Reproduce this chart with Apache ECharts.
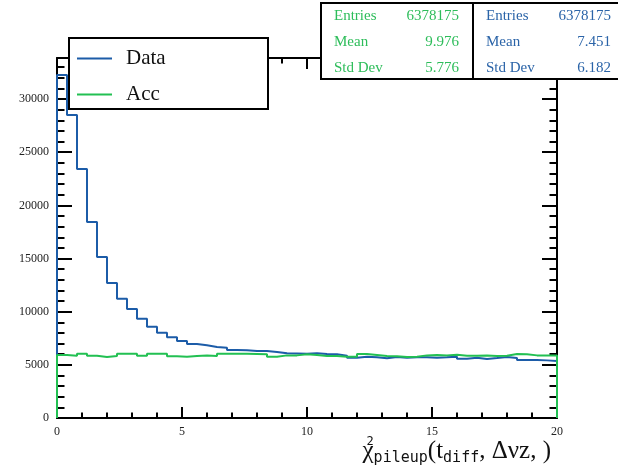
<!DOCTYPE html>
<html>
<head>
<meta charset="utf-8">
<script src="https://cdn.jsdelivr.net/npm/echarts@6/dist/echarts.min.js"></script>
<style>html,body{margin:0;padding:0;background:#fff;}#c{width:618px;height:471px;}</style>
</head>
<body>
<div id="c"></div>
<script>
// Histogram definition (50 bins from 0 to 20)
const xMin = 0;
const xMax = 20;
const binWidth = 0.4;
const yMax = 33860;

// Bin contents
const dataCounts = [32250, 28500, 23420, 18430, 15140, 12700, 11220, 10250, 9340, 8590,
  8020, 7600, 7240, 6960, 6840, 6680, 6610, 6400, 6370, 6300,
  6300, 6210, 6080, 6070, 6040, 6080, 6020, 5990, 5860, 5670,
  5770, 5710, 5610, 5740, 5670, 5710, 5710, 5670, 5710, 5770,
  5580, 5670, 5550, 5640, 5740, 5640, 5450, 5450, 5420, 5360];
const accCounts = [5925, 5860, 6050, 5860, 5740, 5830, 6050, 6050, 5860, 6050,
  6050, 5800, 5770, 5830, 5890, 5830, 6050, 6050, 6050, 6020,
  5990, 5770, 5890, 5890, 6000, 5925, 5830, 5830, 5770, 5770,
  6020, 5925, 5830, 5800, 5740, 5770, 5890, 5925, 5890, 5960,
  5860, 5860, 5890, 5830, 5860, 6020, 5990, 5890, 5890, 5890];

// Stat boxes
const statLabels = ['Entries', 'Mean', 'Std Dev'];
const accStats = ['6378175', '9.976', '5.776'];
const dataStats = ['6378175', '7.451', '6.182'];

const seriesNames = ['Data', 'Acc'];
const colors = ['#1c5ca8', '#22c052'];
const statColors = ['#2b64a8', '#2dbd5a'];
const xTitle = '{a|χ}{sup|2}{sub|pileup}{a|(t}{sub|diff}{a|, Δνz, )}';

function histPoints(counts) {
  const pts = [[xMin, 0]];
  counts.forEach((c, i) => pts.push([xMin + i * binWidth, c]));
  pts.push([xMax, counts[counts.length - 1]]);
  pts.push([xMax, 0]);
  return pts;
}

const black = '#000';
const serif = 'Liberation Serif';
const plain = v => String(v);

function xAx(pos, interval, len, showLine, showLabel) {
  return {
    type: 'value', min: xMin, max: xMax, interval: interval, position: pos,
    axisLine: { show: showLine, onZero: false, lineStyle: { color: black, width: 2 } },
    axisTick: { show: true, inside: true, length: len, lineStyle: { color: black, width: 2 } },
    axisLabel: { show: showLabel, color: '#222', fontSize: 12, fontFamily: serif, margin: 8, formatter: plain },
    splitLine: { show: false }
  };
}
function yAx(pos, interval, len, showLine, showLabel) {
  return {
    type: 'value', min: 0, max: yMax, interval: interval, position: pos,
    axisLine: { show: showLine, onZero: false, lineStyle: { color: black, width: 2 } },
    axisTick: { show: true, inside: true, length: len, lineStyle: { color: black, width: 2 } },
    axisLabel: { show: showLabel, color: '#222', fontSize: 12, fontFamily: serif, margin: 8, showMaxLabel: false, formatter: plain },
    splitLine: { show: false }
  };
}

const gfx = [];
gfx.push({ type: 'rect', z: 3, shape: { x: 321, y: 3, width: 152, height: 76 }, style: { fill: '#fff', stroke: black, lineWidth: 2 } });
gfx.push({ type: 'rect', z: 3, shape: { x: 473, y: 3, width: 160, height: 76 }, style: { fill: '#fff', stroke: black, lineWidth: 2 } });
const rowY = [16, 42, 68];
statLabels.forEach((lab, i) => {
  gfx.push({ type: 'text', z: 5, x: 334, y: rowY[i], style: { text: lab, fill: statColors[1], font: '15px "Liberation Serif"', textAlign: 'left', textVerticalAlign: 'middle' } });
  gfx.push({ type: 'text', z: 5, x: 459, y: rowY[i], style: { text: accStats[i], fill: statColors[1], font: '15px "Liberation Serif"', textAlign: 'right', textVerticalAlign: 'middle' } });
  gfx.push({ type: 'text', z: 5, x: 486, y: rowY[i], style: { text: lab, fill: statColors[0], font: '15px "Liberation Serif"', textAlign: 'left', textVerticalAlign: 'middle' } });
  gfx.push({ type: 'text', z: 5, x: 611, y: rowY[i], style: { text: dataStats[i], fill: statColors[0], font: '15px "Liberation Serif"', textAlign: 'right', textVerticalAlign: 'middle' } });
});
gfx.push({ type: 'rect', z: 3, shape: { x: 69, y: 38, width: 199, height: 71 }, style: { fill: '#fff', stroke: black, lineWidth: 2 } });
gfx.push({
  type: 'text', z: 5, x: 551, y: 436,
  style: {
    text: xTitle, textAlign: 'right', textVerticalAlign: 'top',
    rich: {
      a: { fontSize: 25, fontFamily: serif, fill: '#111', lineHeight: 30, verticalAlign: 'middle' },
      sup: { fontSize: 12, fontFamily: 'DejaVu Sans Mono', fill: '#111', width: 0, verticalAlign: 'top', lineHeight: 30 },
      sub: { fontSize: 15, fontFamily: 'DejaVu Sans Mono', fill: '#111', verticalAlign: 'bottom', lineHeight: 30 }
    }
  }
});

const chart = echarts.init(document.getElementById('c'), null, { renderer: 'canvas' });
chart.setOption({
  animation: false,
  backgroundColor: '#fff',
  grid: { left: 57, right: 61, top: 58, bottom: 53, containLabel: false, outerBoundsMode: 'none' },
  legend: {
    data: seriesNames,
    orient: 'vertical',
    left: 72, top: 43,
    icon: 'rect',
    itemWidth: 35, itemHeight: 2, itemGap: 15,
    z: 6,
    textStyle: { fontSize: 21, fontFamily: serif, color: '#111', lineHeight: 21, padding: [0, 0, 0, 9] }
  },
  xAxis: [
    xAx('bottom', 5, 11, true, true),
    xAx('bottom', 1, 5.5, false, false),
    xAx('top', 5, 11, true, false),
    xAx('top', 1, 5.5, false, false)
  ],
  yAxis: [
    yAx('left', 5000, 15, true, true),
    yAx('left', 1000, 7.5, false, false),
    yAx('right', 5000, 15, true, false),
    yAx('right', 1000, 7.5, false, false)
  ],
  series: [
    { name: seriesNames[0], type: 'line', step: 'end', symbol: 'none', clip: false,
      xAxisIndex: 0, yAxisIndex: 0, data: histPoints(dataCounts),
      lineStyle: { color: colors[0], width: 2 }, itemStyle: { color: colors[0] } },
    { name: seriesNames[1], type: 'line', step: 'end', symbol: 'none', clip: false,
      xAxisIndex: 0, yAxisIndex: 0, data: histPoints(accCounts),
      lineStyle: { color: colors[1], width: 2 }, itemStyle: { color: colors[1] } }
  ],
  graphic: gfx
});
</script>
</body>
</html>
